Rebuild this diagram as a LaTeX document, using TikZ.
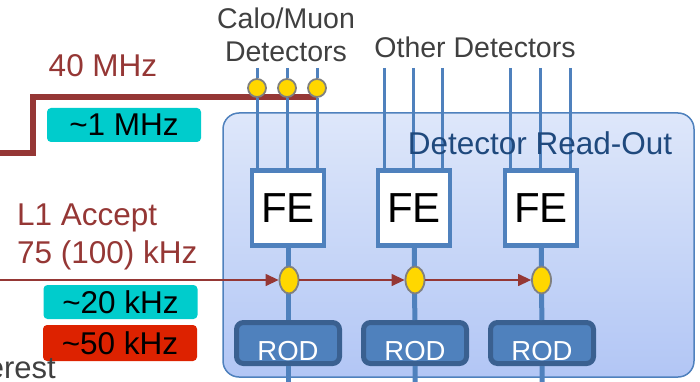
\documentclass[tikz,border=0pt]{standalone}
\usepackage{fontspec}
\setmainfont{Liberation Sans}
\usepackage{xcolor}
\usepackage{tikz}
\usetikzlibrary{shapes.geometric,arrows.meta}

\definecolor{trigred}{HTML}{953735}
\definecolor{roblue}{HTML}{4F81BD}
\definecolor{rodedge}{HTML}{3A6090}
\definecolor{rateteal}{HTML}{00CCCC}
\definecolor{ratered}{HTML}{DD2200}
\definecolor{dotyellow}{HTML}{FFD700}
\definecolor{labelgray}{HTML}{404040}
\definecolor{rotext}{HTML}{1F497D}
\definecolor{rotop}{HTML}{DEE7FA}
\definecolor{robottom}{HTML}{B2C6F5}

\begin{document}
\begin{tikzpicture}[x=1pt, y=-1pt,
    readout/.style={rectangle, draw=roblue, line width=1.5pt, rounded corners=16pt,
      top color=rotop, bottom color=robottom, minimum width=471pt, minimum height=264pt},
    fe/.style={rectangle, draw=roblue, line width=4.5pt, fill=white, inner sep=0pt,
      minimum width=72pt, minimum height=75pt, font=\fontsize{42}{44}\selectfont},
    rod/.style={rectangle, draw=rodedge, line width=5pt, fill=roblue, rounded corners=7pt,
      inner sep=0pt, minimum width=103pt, minimum height=41pt, text=white,
      text height=35pt, text depth=0pt, font=\fontsize{27.5}{29}\selectfont},
    rate/.style={rectangle, rounded corners=4pt, inner sep=0pt, minimum width=154pt,
      minimum height=34pt, font=\fontsize{31.5}{33}\selectfont},
    calodot/.style={circle, draw=gray, line width=1.8pt, fill=dotyellow,
      minimum size=18pt, inner sep=0pt},
    seldot/.style={ellipse, draw=gray, line width=1.8pt, fill=dotyellow,
      minimum width=19pt, minimum height=27pt, inner sep=0pt},
    detlabel/.style={text=labelgray, inner sep=0pt, align=center,
      font=\fontsize{28.5}{33}\selectfont},
    triglabel/.style={text=trigred, inner sep=0pt, align=left,
      font=\fontsize{31.5}{38}\selectfont},
    bus/.style={draw=roblue, line width=5pt},
    wire/.style={draw=roblue, line width=3pt},
    l1line/.style={draw=trigred, line width=5.5pt},
    l1arr/.style={draw=trigred, line width=1.3pt, -{Triangle[length=13pt,width=12pt]}},
  ]
    \useasboundingbox (0,0) rectangle (700,382);

    % Read-out area
    \node[readout] (dro) at (458.5,245) {};

    % Nodes
    \node[fe] (fe1) at (288,208) {FE};
    \node[fe] (fe2) at (414,208) {FE};
    \node[fe] (fe3) at (541,208) {FE};
    \node[rod] (rod1) at (288,343) {ROD};
    \node[rod] (rod2) at (415,343) {ROD};
    \node[rod] (rod3) at (542,343) {ROD};

    \coordinate (out1) at (288,382);
    \coordinate (out2) at (415,382);
    \coordinate (out3) at (542,382);
    \draw[bus] (fe1) -- (rod1) -- (out1);
    \draw[bus] (fe2) -- (rod2) -- (out2);
    \draw[bus] (fe3) -- (rod3) -- (out3);

    % Level-1 trigger line
    \coordinate (l1in) at (0,153);
    \coordinate (l1step) at (33,153);
    \coordinate (l1end) at (318,97);
    \draw[l1line] (l1in) -- (l1step) |- (l1end);

    % Calo/Muon detectors
    \node[calodot] (cd1) at (257,88) {};
    \node[calodot] (cd2) at (287,88) {};
    \node[calodot] (cd3) at (317,88) {};
    \coordinate (d11) at (257,68);
    \coordinate (d12) at (287,68);
    \coordinate (d13) at (317,68);
    \draw[wire] (d11) -- (cd1) -- (fe1.north -| cd1);
    \draw[wire] (d12) -- (cd2) -- (fe1.north -| cd2);
    \draw[wire] (d13) -- (cd3) -- (fe1.north -| cd3);

    % Other detectors
    \coordinate (d21) at (384,68);
    \coordinate (d22) at (413,68);
    \coordinate (d23) at (442,68);
    \coordinate (d31) at (510,68);
    \coordinate (d32) at (540,68);
    \coordinate (d33) at (570,68);
    \draw[wire] (d21) -- (fe2.north -| d21);
    \draw[wire] (d22) -- (fe2.north -| d22);
    \draw[wire] (d23) -- (fe2.north -| d23);
    \draw[wire] (d31) -- (fe3.north -| d31);
    \draw[wire] (d32) -- (fe3.north -| d32);
    \draw[wire] (d33) -- (fe3.north -| d33);

    % Selection points
    \node[seldot] (sel1) at (289,280) {};
    \node[seldot] (sel2) at (415,280) {};
    \node[seldot] (sel3) at (541.5,280) {};

    % Labels
    \node[detlabel] (calo) at (286,35) {Calo/Muon\\Detectors};
    \node[detlabel] (other) at (475,47) {Other Detectors};
    \node[text=rotext, inner sep=0pt, font=\fontsize{31.5}{33}\selectfont] (drolabel) at (540,143) {Detector Read-Out};
    \node[triglabel] (bcrate) at (103,66) {40 MHz};
    \node[triglabel, anchor=west] (l1acc) at (17,237) {L1 Accept\\75 (100) kHz};
    \node[rate, fill=rateteal] (rate1) at (124,125) {\textasciitilde1 MHz};
    \node[rate, fill=rateteal] (rate2) at (120.5,302) {\textasciitilde20 kHz};
    \node[rate, fill=ratered, minimum height=36pt] (rate3) at (120,343) {\textasciitilde50 kHz};
    \node[text=labelgray, inner sep=0pt, anchor=base east, font=\fontsize{31}{33}\selectfont] (roi) at (56,378) {erest};

    % Arrows
    \coordinate (l1src) at (0,280);
    \draw[l1arr] (l1src) -- (sel1);
    \draw[l1arr] (sel1) -- (sel2);
    \draw[l1arr] (sel2) -- (sel3);
  \end{tikzpicture}
\end{document}
